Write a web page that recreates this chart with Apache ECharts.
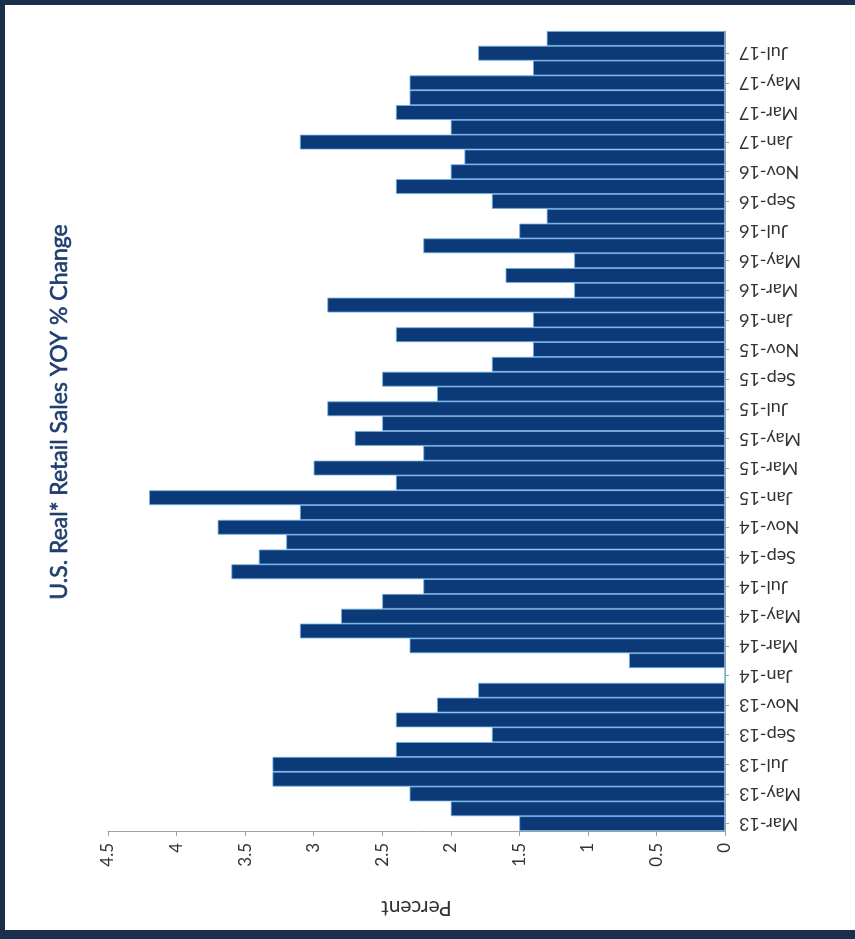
<!DOCTYPE html>
<html>
<head>
<meta charset="utf-8">
<script src="https://cdn.jsdelivr.net/npm/echarts@6/dist/echarts.min.js"></script>
<style>
html,body{margin:0;padding:0;background:#fff;}
#chart{width:855px;height:939px;}
</style>
</head>
<body>
<div id="chart"></div>
<script>
const categories = [
  'Mar-13','Apr-13','May-13','Jun-13','Jul-13','Aug-13','Sep-13','Oct-13','Nov-13','Dec-13',
  'Jan-14','Feb-14','Mar-14','Apr-14','May-14','Jun-14','Jul-14','Aug-14','Sep-14','Oct-14','Nov-14','Dec-14',
  'Jan-15','Feb-15','Mar-15','Apr-15','May-15','Jun-15','Jul-15','Aug-15','Sep-15','Oct-15','Nov-15','Dec-15',
  'Jan-16','Feb-16','Mar-16','Apr-16','May-16','Jun-16','Jul-16','Aug-16','Sep-16','Oct-16','Nov-16','Dec-16',
  'Jan-17','Feb-17','Mar-17','Apr-17','May-17','Jun-17','Jul-17','Aug-17'
];
const salesYoY = [
  1.5, 2.0, 2.3, 3.3, 3.3, 2.4, 1.7, 2.4, 2.1, 1.8,
  0, 0.7, 2.3, 3.1, 2.8, 2.5, 2.2, 3.6, 3.4, 3.2, 3.7, 3.1,
  4.2, 2.4, 3.0, 2.2, 2.7, 2.5, 2.9, 2.1, 2.5, 1.7, 1.4, 2.4,
  1.4, 2.9, 1.1, 1.6, 1.1, 2.2, 1.5, 1.3, 1.7, 2.4, 2.0, 1.9,
  3.1, 2.0, 2.4, 2.3, 2.3, 1.4, 1.8, 1.3
];
const titleText = 'U.S. Real* Retail Sales YOY % Change';
const valueAxisName = 'Percent';

const chart = echarts.init(document.getElementById('chart'));
const fontFam = 'Lato, "Noto Sans", sans-serif';
chart.setOption({
  animation: false,
  backgroundColor: '#ffffff',
  grid: { left: 108, right: 130, top: 31, bottom: 108 },
  xAxis: {
    type: 'value',
    inverse: true,
    min: 0, max: 4.5, interval: 0.5,
    position: 'bottom',
    name: valueAxisName,
    nameLocation: 'middle',
    nameRotate: 180,
    nameGap: 66,
    nameTextStyle: { fontSize: 21, color: '#333', fontFamily: fontFam },
    axisLine: { show: true, lineStyle: { color: '#a0a0a0', width: 1 } },
    axisTick: { show: true, length: 5, lineStyle: { color: '#a0a0a0' } },
    splitLine: { show: false },
    axisLabel: { rotate: 90, margin: 12, fontSize: 17, color: '#333', fontFamily: fontFam }
  },
  yAxis: {
    type: 'category',
    position: 'right',
    data: categories,
    axisLine: { show: true, lineStyle: { color: '#a0a0a0', width: 1 } },
    axisTick: { show: true, alignWithLabel: true, interval: 1, length: 4, lineStyle: { color: '#a0a0a0' } },
    axisLabel: { interval: 1, rotate: 180, margin: 14, fontSize: 18, color: '#333', fontFamily: fontFam }
  },
  series: [{
    type: 'bar',
    data: salesYoY,
    barCategoryGap: '0%',
    itemStyle: { color: '#0c3a78', borderColor: '#6bb0e3', borderWidth: 0.8 }
  }],
  graphic: [
    { type: 'rect', left: 0, top: 0, shape: { width: 855, height: 5 }, style: { fill: '#1c2e4e' } },
    { type: 'rect', left: 0, top: 0, shape: { width: 5, height: 939 }, style: { fill: '#1c2e4e' } },
    { type: 'rect', left: 0, top: 930, shape: { width: 855, height: 9 }, style: { fill: '#1c2e4e' } },
    {
      type: 'text',
      x: 60, y: 412,
      rotation: Math.PI / 2,
      style: {
        text: titleText,
        fontSize: 23,
        fontFamily: fontFam,
        fill: '#1f3d6e',
        stroke: '#1f3d6e',
        lineWidth: 0.6,
        textAlign: 'center',
        textVerticalAlign: 'middle'
      }
    }
  ]
});
</script>
</body>
</html>
